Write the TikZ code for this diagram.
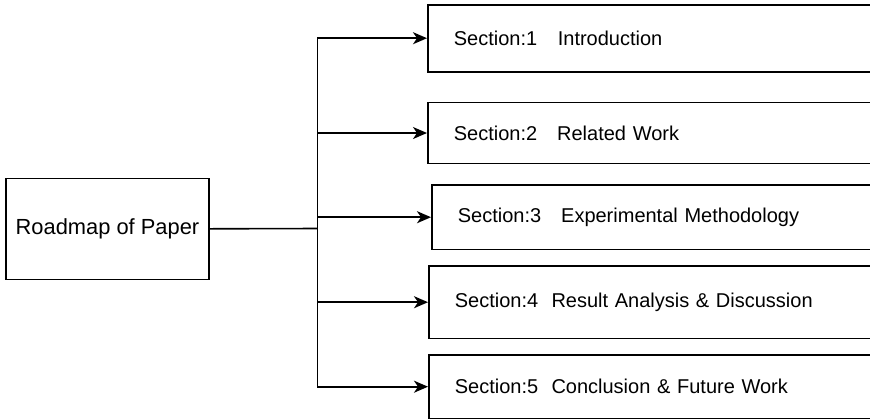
\documentclass[tikz,border=0pt]{standalone}
\usepackage{fontspec}
\setmainfont{Liberation Sans}
\usetikzlibrary{arrows.meta}
\tikzset{
  mapbox/.style={draw, line width=1.2pt, rectangle, inner sep=0pt, font=\fontsize{15}{18}\selectfont},
  secbox/.style={mapbox, anchor=west, minimum width=352pt, text width=313pt, inner xsep=19.5pt, align=left},
  branch/.style={line width=1.2pt, -{Stealth[length=10.5pt,width=9pt,inset=3pt]}}
}
\begin{document}
\begin{tikzpicture}[x=0.75pt,y=-0.75pt]
    \useasboundingbox (0,0) rectangle (870,419);
    \clip (0,0) rectangle (870,419);
    \node[mapbox, minimum width=152.5pt, minimum height=75.75pt, anchor=west, font=\fontsize{16.4}{19}\selectfont] (roadmap) at (5,228.8) {Roadmap of Paper};
    \node[secbox, minimum height=50.25pt] (sec1) at (427,38.2) {Section:1\hspace{15.5pt}Introduction};
    \node[secbox, minimum height=45.5pt] (sec2) at (427,133) {Section:2\ \ \ Related Work};
    \node[secbox, minimum height=48.2pt] (sec3) at (431,217.2) {Section:3\ \ \ Experimental Methodology};
    \node[secbox, minimum height=54.2pt] (sec4) at (428,302.2) {Section:4\ \ Result Analysis \& Discussion};
    \node[secbox, minimum height=47.5pt] (sec5) at (428,386.7) {Section:5\ \ Conclusion \& Future Work};
    \coordinate (fork) at (317.5,228.5);
    \draw[line width=1.2pt] (roadmap.east) -- (fork);
    \draw[branch] (fork) |- (sec1.west);
    \draw[branch] (fork) |- (sec2.west);
    \draw[branch] (fork) |- (sec3.west);
    \draw[branch] (fork) |- (sec4.west);
    \draw[branch] (fork) |- (sec5.west);
\end{tikzpicture}
\end{document}
